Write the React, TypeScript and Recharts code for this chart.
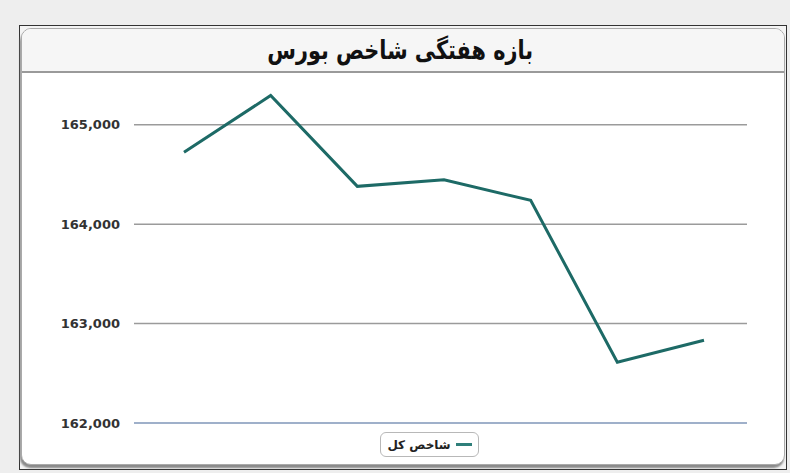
import React from "react";
import { LineChart, Line, XAxis, YAxis, CartesianGrid, Legend, ReferenceLine } from "recharts";

const categories = ["۱", "۲", "۳", "۴", "۵", "۶", "۷"];
const indexValues = [164722, 165294, 164380, 164447, 164239, 162611, 162832];
const yTicks = [162000, 163000, 164000, 165000];
const seriesName = "شاخص کل";
const title = "بازه هفتگی شاخص بورس";

const data = categories.map((c, i) => ({ day: c, value: indexValues[i] }));

const fmt = (v: number) => v.toLocaleString("en-US");

const LegendContent = () => (
  <div style={{ width: 790, height: 26, position: "relative" }}>
    <div
      style={{
        position: "absolute",
        left: 380,
        top: 0,
        width: 99,
        height: 25,
        border: "1px solid #b8b8b8",
        borderRadius: 6,
        background: "#fff",
        display: "flex",
        alignItems: "center",
        justifyContent: "center",
        gap: 5,
        fontFamily: "DejaVu Sans",
        fontSize: 12,
        fontWeight: 700,
        color: "#222",
        boxSizing: "border-box",
      }}
    >
      <span dir="rtl">{seriesName}</span>
      <span style={{ display: "inline-block", width: 16, height: 2.5, background: "#2f7f7a" }} />
    </div>
  </div>
);

export default function App() {
  return (
    <div
      style={{
        position: "absolute",
        left: 0,
        top: 0,
        width: 790,
        height: 473,
        background: "#eeeeee",
        overflow: "hidden",
      }}
    >
      <div
        style={{
          position: "absolute",
          left: 19,
          top: 25,
          width: 768,
          height: 445,
          border: "1.5px solid #333",
          background: "#f4f4f4",
          boxSizing: "border-box",
        }}
      />
      <div
        style={{
          position: "absolute",
          left: 21,
          top: 28,
          width: 764,
          height: 437,
          border: "1px solid #aaa",
          borderRadius: 10,
          background: "#fff",
          boxShadow: "-1px 3px 2px #8a8a8a",
          boxSizing: "border-box",
          overflow: "hidden",
        }}
      >
        <div
          style={{
            height: 42,
            background: "#f6f6f6",
            borderBottom: "2px solid #9a9a9a",
            display: "flex",
            alignItems: "center",
            justifyContent: "center",
          }}
        >
          <span
            dir="rtl"
            style={{
              display: "inline-block",
              fontFamily: "DejaVu Sans",
              fontWeight: 700,
              fontSize: 26,
              color: "#111",
              marginRight: 6,
              transform: "scaleX(0.8)",
            }}
          >
            {title}
          </span>
        </div>
      </div>
      <div style={{ position: "absolute", left: 0, top: 0 }}>
        <LineChart
          width={790}
          height={473}
          data={data}
          margin={{ top: 75, right: 43, bottom: 24, left: 0 }}
        >
          <CartesianGrid
            vertical={false}
            stroke="#9b9b9b"
            strokeWidth={1.5}
            syncWithTicks={true}
          />
          <XAxis
            dataKey="day"
            tick={false}
            tickLine={false}
            height={0}
            axisLine={{ stroke: "#9fb0ca", strokeWidth: 2 }}
            padding={{ left: 50, right: 43 }}
          />
          <YAxis
            width={134}
            domain={[162000, 165500]}
            ticks={yTicks}
            tickFormatter={fmt}
            axisLine={false}
            tickLine={false}
            tickSize={6}
            tickMargin={8}
            tick={{ fontFamily: "DejaVu Sans", fontSize: 13, fontWeight: 700, fill: "#333" }}
          />
          <ReferenceLine y={yTicks[0]} stroke="#9fb0ca" strokeWidth={2} />
          <Legend
            verticalAlign="bottom"
            content={<LegendContent />}
            wrapperStyle={{ left: 0, bottom: 15, width: 790, height: 26 }}
          />
          <Line
            type="linear"
            dataKey="value"
            name={seriesName}
            stroke="#1d6a66"
            strokeWidth={3}
            dot={false}
            isAnimationActive={false}
          />
        </LineChart>
      </div>
    </div>
  );
}
